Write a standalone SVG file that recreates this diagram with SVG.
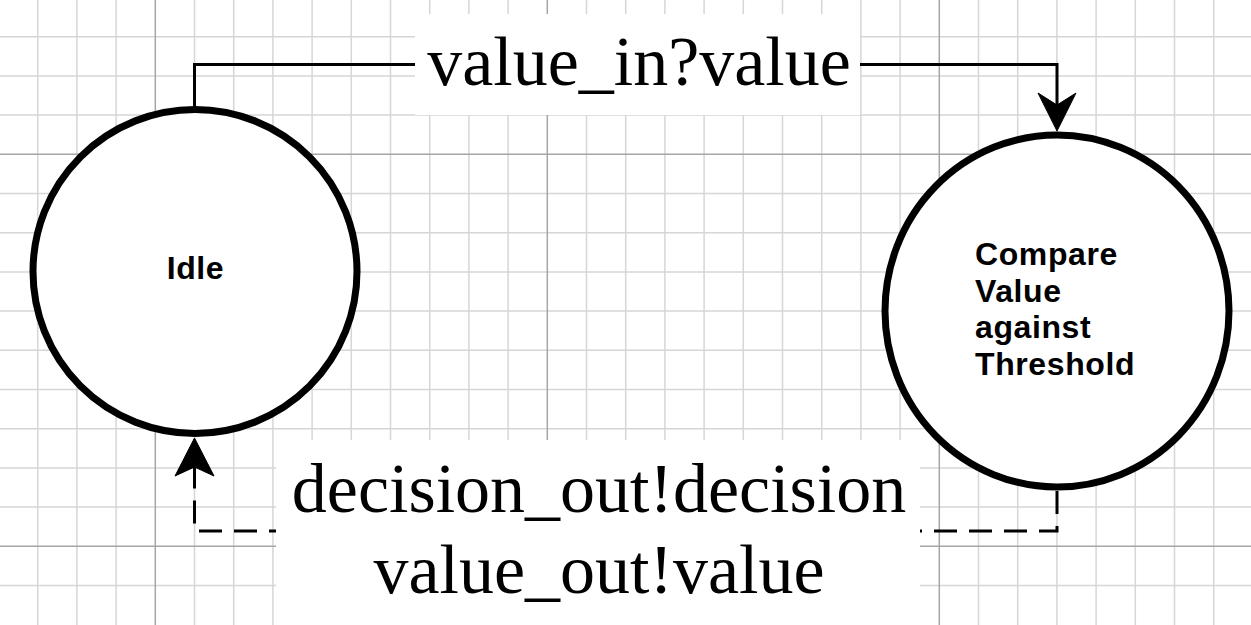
<svg xmlns="http://www.w3.org/2000/svg" width="1251" height="625" viewBox="0 0 1251 625">
<style>
.minor{stroke:#d6d6d6;stroke-width:1.5;fill:none}
.major{stroke:#a6a6a6;stroke-width:1.5;fill:none}
.node{fill:#ffffff;stroke:#000000;stroke-width:7}
.ntext{font-family:"Liberation Sans",Arial,sans-serif;font-weight:bold;font-size:32px;letter-spacing:0.6px;fill:#000}
.edge{fill:none;stroke:#000;stroke-width:3}
.dashed{stroke-dasharray:23 12}
.lbg{fill:#ffffff;stroke:none}
.ltext{font-family:"Liberation Serif","Times New Roman",serif;font-size:70px;fill:#000;text-anchor:middle}
.head{fill:#000;stroke:#000;stroke-width:1}
</style>
<rect x="0" y="0" width="1251" height="625" fill="#ffffff"/>
<g id="grid">
<path class="minor" d="M37.7 0V625M76.9 0V625M116.1 0V625M194.5 0V625M233.7 0V625M272.9 0V625M312.1 0V625M351.3 0V625M390.5 0V625M429.7 0V625M468.9 0V625M508.1 0V625M586.5 0V625M625.7 0V625M664.9 0V625M704.1 0V625M743.3 0V625M782.5 0V625M821.7 0V625M860.9 0V625M900.1 0V625M978.5 0V625M1017.7 0V625M1056.9 0V625M1096.1 0V625M1135.3 0V625M1174.5 0V625M1213.7 0V625M0 36.7H1251M0 75.9H1251M0 115.1H1251M0 193.5H1251M0 232.7H1251M0 271.9H1251M0 311.1H1251M0 350.3H1251M0 389.5H1251M0 428.7H1251M0 467.9H1251M0 507.1H1251M0 585.5H1251"/>
<path class="major" d="M155.3 0V625M547.3 0V625M939.3 0V625M0 154.3H1251M0 546.3H1251"/>
</g>
<g id="connectors">
<g id="edge-value-in">
<path class="edge" d="M194.5 106V64.5H1057V106"/>
<path class="head" d="M1057 131L1038 93L1057 105L1076 93Z"/>
</g>
<g id="edge-decision-out">
<path class="edge dashed" d="M1057 491V531H194.5V466"/>
<path class="head" d="M194.5 438L175 476L194.5 467L214 476Z"/>
</g>
</g>
<g id="node-idle">
<circle class="node" cx="195" cy="271.5" r="162"/>
<text class="ntext" x="195.5" y="279" text-anchor="middle">Idle</text>
</g>
<g id="node-compare">
<ellipse class="node" cx="1057" cy="311" rx="172" ry="176"/>
<text class="ntext" x="975" y="265">Compare</text>
<text class="ntext" x="975" y="301.5">Value</text>
<text class="ntext" x="975" y="338">against</text>
<text class="ntext" x="975" y="374.5">Threshold</text>
</g>
<g id="label-value-in">
<rect class="lbg" x="415" y="14" width="445" height="101"/>
<text class="ltext" x="639" y="85">value_in?value</text>
</g>
<g id="label-decision-out">
<rect class="lbg" x="276" y="440" width="644" height="185"/>
<text class="ltext" x="599" y="512">decision_out!decision</text>
<text class="ltext" x="599" y="593">value_out!value</text>
</g>
</svg>
